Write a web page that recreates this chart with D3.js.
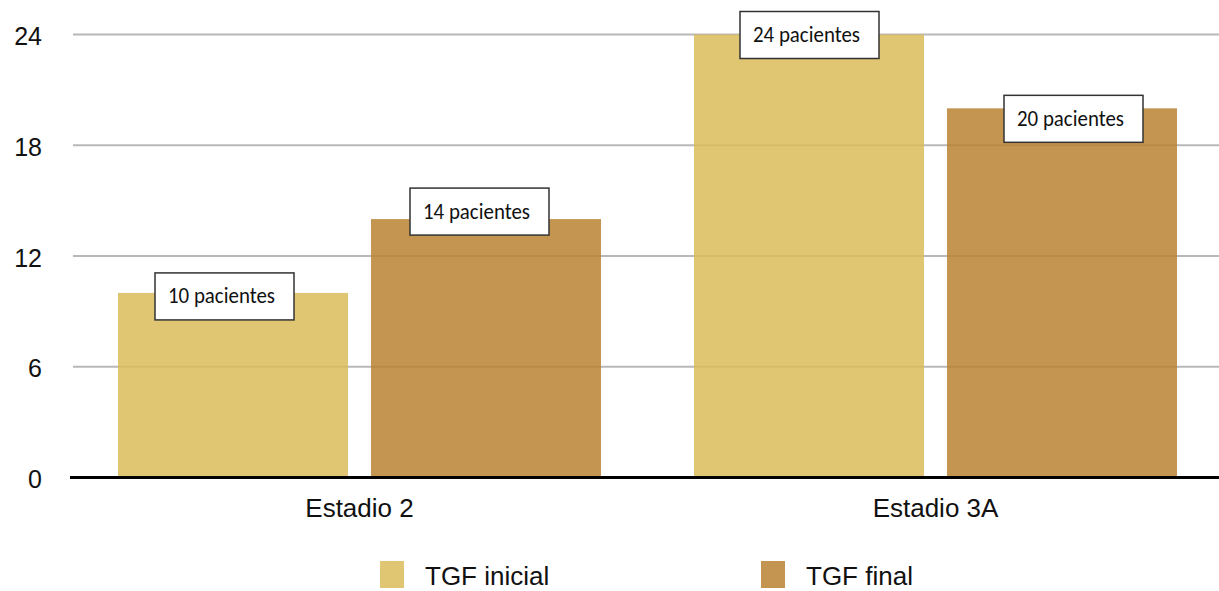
<!DOCTYPE html>
<html>
<head>
<meta charset="utf-8">
<script src="https://cdn.jsdelivr.net/npm/d3@7/dist/d3.min.js"></script>
<style>
  html, body { margin: 0; padding: 0; background: #fff; }
  svg { display: block; }
  .axis-txt { font-family: Helvetica, "Liberation Sans", Arial, sans-serif; fill: #111; }
  .lbl-txt { font-family: Carlito, Calibri, Lato, "Open Sans", sans-serif; fill: #111; }
</style>
</head>
<body>
<svg id="chart" width="1219" height="591"></svg>
<script>
// Categories, series and values
const categories = ["Estadio 2", "Estadio 3A"];
const seriesNames = ["TGF inicial", "TGF final"];
const tgfInicial = [10, 24];
const tgfFinal = [14, 20];
const yTicks = [0, 6, 12, 18, 24];
const valueLabels = [["10 pacientes", "24 pacientes"], ["14 pacientes", "20 pacientes"]];

// Layout
const W = 1219, H = 591;
const colors = ["#DBBB5A", "#BA8332"];
const barOpacity = 0.85;
// hand-placed callout offsets (box left from bar left, box top from bar top), per series x category
const calloutNudge = [
  [[37, -20], [46, -23]],
  [[39, -31], [57, -13]]
];

const svg = d3.select("#chart");

const y = d3.scaleLinear().domain([0, 24]).range([477.5, 34.5]);
const x0 = d3.scaleBand().domain(categories).range([71.5, 1223.5]).paddingInner(0).paddingOuter(0);
const x1 = d3.scaleBand().domain(seriesNames).range([46.5, 529.5]).paddingInner(23 / 253).paddingOuter(0);

const seriesValues = [tgfInicial, tgfFinal];

// gridlines
svg.append("g").selectAll("line").data(yTicks.filter(t => t > 0)).join("line")
  .attr("x1", 73).attr("x2", W)
  .attr("y1", d => y(d)).attr("y2", d => y(d))
  .attr("stroke", "#b8b8b8").attr("stroke-width", 2);

// y tick labels
svg.append("g").selectAll("text").data(yTicks).join("text")
  .attr("class", "axis-txt")
  .attr("x", 42).attr("y", d => y(d) + 10.5)
  .attr("text-anchor", "end")
  .attr("font-size", 25)
  .text(d => d);

// bars
const groups = svg.append("g").selectAll("g").data(categories).join("g")
  .attr("transform", c => `translate(${x0(c)},0)`);

groups.selectAll("rect").data((c, ci) => seriesNames.map((s, si) => ({ s, si, ci, v: seriesValues[si][ci] })))
  .join("rect")
  .attr("x", d => x1(d.s))
  .attr("width", x1.bandwidth())
  .attr("y", d => y(d.v))
  .attr("height", d => y(0) - y(d.v))
  .attr("fill", d => colors[d.si])
  .attr("fill-opacity", barOpacity);

// baseline
svg.append("line")
  .attr("x1", 70).attr("x2", W)
  .attr("y1", y(0)).attr("y2", y(0))
  .attr("stroke", "#000").attr("stroke-width", 3);

// category labels
svg.append("g").selectAll("text").data(categories).join("text")
  .attr("class", "axis-txt")
  .attr("x", c => x0(c) + x0.bandwidth() / 2)
  .attr("y", 516.5)
  .attr("text-anchor", "middle")
  .attr("font-size", 26)
  .text(c => c);

// value callouts
const boxW = 139, boxH = 47;
const callouts = [];
seriesNames.forEach((s, si) => categories.forEach((c, ci) => {
  callouts.push({
    left: x0(c) + x1(s) + calloutNudge[si][ci][0],
    top: y(seriesValues[si][ci]) + calloutNudge[si][ci][1],
    text: valueLabels[si][ci]
  });
}));
const cg = svg.append("g").selectAll("g").data(callouts).join("g")
  .attr("transform", d => `translate(${d.left},${d.top})`);
cg.append("rect")
  .attr("width", boxW).attr("height", boxH)
  .attr("fill", "#fff").attr("stroke", "#333").attr("stroke-width", 1.5);
cg.append("text")
  .attr("class", "lbl-txt")
  .attr("x", 13).attr("y", 30.5)
  .attr("font-size", 21.5)
  .attr("textLength", 107).attr("lengthAdjust", "spacingAndGlyphs")
  .text(d => d.text);

// legend
const legendX = [380, 761];
const lg = svg.append("g").selectAll("g").data(seriesNames).join("g")
  .attr("transform", (d, i) => `translate(${legendX[i]},561)`);
lg.append("rect").attr("width", 24).attr("height", 27)
  .attr("fill", (d, i) => colors[i]).attr("fill-opacity", barOpacity);
lg.append("text").attr("class", "axis-txt")
  .attr("x", 45).attr("y", 23.5)
  .attr("font-size", 26)
  .text(d => d);
</script>
</body>
</html>
